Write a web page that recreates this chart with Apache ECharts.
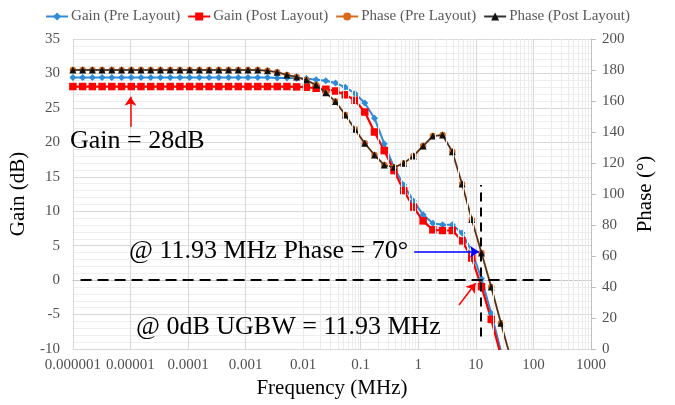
<!DOCTYPE html>
<html><head><meta charset="utf-8">
<script src="https://cdn.jsdelivr.net/npm/echarts@6/dist/echarts.min.js"></script>
<style>html,body{margin:0;padding:0;background:#fff}#c{width:675px;height:405px}</style>
</head><body><div id="c"></div>
<script>
// Frequency sweep (MHz)
const freqMHz = [
  1.000e-6, 1.476e-6, 2.178e-6, 3.214e-6, 4.742e-6, 6.998e-6,
  1.033e-5, 1.524e-5, 2.249e-5, 3.319e-5, 4.898e-5, 7.228e-5,
  1.067e-4, 1.574e-4, 2.323e-4, 3.428e-4, 5.058e-4, 7.464e-4,
  1.102e-3, 1.626e-3, 2.399e-3, 3.540e-3, 5.224e-3, 7.709e-3,
  1.138e-2, 1.679e-2, 2.477e-2, 3.656e-2, 5.395e-2, 7.962e-2,
  0.1175, 0.1734, 0.2559, 0.3776, 0.5572, 0.8222,
  1.213, 1.791, 2.642, 3.899, 5.754, 8.492,
  12.53, 18.49, 27.29, 40.27, 59.43
];
const gainPre = [
  29.4, 29.4, 29.4, 29.4, 29.4, 29.4,
  29.4, 29.4, 29.4, 29.4, 29.4, 29.4,
  29.4, 29.4, 29.4, 29.4, 29.4, 29.4,
  29.4, 29.4, 29.4, 29.35, 29.35, 29.3,
  29.25, 29.1, 28.95, 28.6, 28.0, 27.1,
  25.7, 23.5, 19.8, 16.4, 13.8, 11.5,
  9.5, 8.25, 8.05, 8.05, 6.85, 4.2,
  0.2, -4.8, -10.3, -15.5, -20.5
];
const gainPost = [
  28.1, 28.1, 28.1, 28.1, 28.1, 28.1,
  28.1, 28.1, 28.1, 28.1, 28.1, 28.1,
  28.1, 28.1, 28.1, 28.1, 28.1, 28.1,
  28.1, 28.1, 28.1, 28.1, 28.1, 28.05,
  28.0, 27.85, 27.7, 27.45, 26.9, 26.1,
  24.4, 21.5, 18.8, 15.9, 13.0, 10.6,
  8.6, 7.3, 7.2, 7.2, 5.7, 3.2,
  -0.95, -5.7, -11.0, -16.5, -22.0
];
const phasePre = [
  180, 180, 180, 180, 180, 180,
  180, 180, 180, 180, 180, 180,
  180, 180, 180, 180, 180, 180,
  180, 180, 179.5, 178.6, 176.8, 175.5,
  173.5, 170.3, 165.4, 159.6, 151, 141.7,
  132.7, 125.2, 118.7, 117.2, 119.8, 124.5,
  131, 137.4, 138, 127.3, 106.5, 83.5,
  62, 40, 16.6, -6, -28
];
const phasePost = [
  180, 180, 180, 180, 180, 180,
  180, 180, 180, 180, 180, 180,
  180, 180, 180, 180, 180, 180,
  180, 180, 179.5, 178.6, 176.8, 175.5,
  173.5, 170.3, 165.4, 159.6, 151, 141.7,
  132.7, 125.2, 118.7, 117.2, 119.8, 124.5,
  131, 137.4, 138, 127.3, 106.5, 83.5,
  62, 40, 16.6, -6, -28
];
const xTickLabels = ['0.000001','0.00001','0.0001','0.001','0.01','0.1','1','10','100','1000'];
const seriesNames = ['Gain (Pre Layout)','Gain (Post Layout)','Phase (Pre Layout)','Phase (Post Layout)'];
const ugbwMHz = 11.93;

const FONT = '"Liberation Serif", "Times New Roman", serif';
const pair = arr => freqMHz.map((f, i) => [f, arr[i]]);

// minor log gridlines (2..9 in each decade)
const minorX = [];
for (let e = -6; e < 3; e++) for (let m = 2; m <= 9; m++) minorX.push({ xAxis: m * Math.pow(10, e) });

const chart = echarts.init(document.getElementById('c'), null, { renderer: 'canvas' });
chart.setOption({
  animation: false,
  backgroundColor: '#fff',
  textStyle: { fontFamily: FONT },
  legend: {
    data: seriesNames,
    top: 4, left: 'center',
    itemWidth: 22, itemHeight: 10, itemGap: 7,
    textStyle: { fontFamily: FONT, fontSize: 15, color: '#595959', padding: [0, 0, 0, -2] }
  },
  grid: { left: 69, right: 84, top: 39, bottom: 56 },
  xAxis: {
    type: 'log', logBase: 10, min: 0.000001, max: 1000,
    name: 'Frequency (MHz)', nameLocation: 'middle', nameGap: 27,
    nameTextStyle: { fontFamily: FONT, fontSize: 21, color: '#000' },
    axisLine: { show: true, lineStyle: { color: '#C8C8C8', width: 1 } },
    axisTick: { show: false },
    axisLabel: {
      fontFamily: FONT, fontSize: 15, color: '#505050', margin: 9,
      formatter: v => xTickLabels[Math.round(Math.log10(v)) + 6]
    },
    splitLine: { show: true, lineStyle: { color: '#D9D9D9', width: 1 } }
  },
  yAxis: [
    {
      type: 'value', min: -10, max: 35, interval: 5,
      name: 'Gain (dB)', nameLocation: 'middle', nameGap: 42, nameRotate: 90,
      nameTextStyle: { fontFamily: FONT, fontSize: 21, color: '#000' },
      axisLine: { show: true, lineStyle: { color: '#D9D9D9' } },
      axisTick: { show: false },
      axisLabel: { fontFamily: FONT, fontSize: 15, color: '#505050', margin: 13 },
      splitLine: { show: true, lineStyle: { color: '#D9D9D9', width: 1 } },
      minorTick: { show: false, splitNumber: 5 },
      minorSplitLine: { show: true, lineStyle: { color: '#EEEEEE', width: 1 } }
    },
    {
      type: 'value', min: 0, max: 200, interval: 20, position: 'right',
      name: 'Phase (°)', nameLocation: 'middle', nameGap: 38, nameRotate: 90,
      nameTextStyle: { fontFamily: FONT, fontSize: 21, color: '#000' },
      axisLine: { show: true, lineStyle: { color: '#BFBFBF' } },
      axisTick: { show: true, length: 5, lineStyle: { color: '#BFBFBF' } },
      axisLabel: { fontFamily: FONT, fontSize: 15, color: '#505050', margin: 11 },
      splitLine: { show: false }
    }
  ],
  graphic: [
    { type: 'text', x: 70, y: 141, z: 100,
      style: { text: 'Gain = 28dB', font: '26px ' + FONT, fill: '#000', verticalAlign: 'middle' } },
    { type: 'text', x: 129, y: 251, z: 100,
      style: { text: '@ 11.93 MHz Phase = 70°', font: '26px ' + FONT, fill: '#000', verticalAlign: 'middle' } },
    { type: 'text', x: 136, y: 327, z: 100,
      style: { text: '@ 0dB UGBW = 11.93 MHz', font: '26px ' + FONT, fill: '#000', verticalAlign: 'middle' } }
  ],
  series: [
    {
      name: 'minorGrid', type: 'line', data: [], z: 1, silent: true,
      markLine: { silent: true, symbol: ['none', 'none'], label: { show: false },
        lineStyle: { color: '#EBEBEB', width: 1, type: 'solid' }, emphasis: { disabled: true },
        data: minorX }
    },
    {
      name: seriesNames[0], type: 'line', yAxisIndex: 0, data: pair(gainPre), z: 3,
      symbol: 'diamond', symbolSize: 7, showAllSymbol: true,
      itemStyle: { color: '#2E8BD8' }, lineStyle: { color: '#2E8BD8', width: 2 }
    },
    {
      name: seriesNames[1], type: 'line', yAxisIndex: 0, data: pair(gainPost), z: 3,
      symbol: 'rect', symbolSize: 7.5, showAllSymbol: true,
      itemStyle: { color: '#FF0000' }, lineStyle: { color: '#FF0000', width: 2.2 }
    },
    {
      name: seriesNames[2], type: 'line', yAxisIndex: 1, data: pair(phasePre), z: 3,
      symbol: 'circle', symbolSize: 6.5, showAllSymbol: true,
      itemStyle: { color: '#D9691E' }, lineStyle: { color: '#D9691E', width: 2 }
    },
    {
      name: seriesNames[3], type: 'line', yAxisIndex: 1, data: pair(phasePost), z: 4,
      symbol: 'triangle', symbolSize: 7, showAllSymbol: true,
      itemStyle: { color: '#111111' }, lineStyle: { color: '#333333', width: 1.3 }
    },
    {
      name: 'annot', type: 'line', yAxisIndex: 0, data: [], z: 6, silent: true,
      markLine: {
        silent: true, symbol: ['none', 'none'], label: { show: false }, emphasis: { disabled: true },
        data: [
          [{ coord: [1.36e-6, 0], lineStyle: { color: '#000', width: 2, type: [11, 6] } }, { coord: [209, 0] }],
          [{ coord: [ugbwMHz, -8.2], lineStyle: { color: '#000', width: 2, type: [9, 6] } }, { coord: [ugbwMHz, 13.8] }],
          [{ coord: [0.849, 4.12], lineStyle: { color: '#0000FF', width: 1.5, type: 'solid' }, symbol: 'none' },
           { coord: [11.33, 4.12], symbol: 'arrow', symbolSize: 9 }],
          [{ coord: [1e-5, 22.27], lineStyle: { color: '#FF0000', width: 1.5, type: 'solid' }, symbol: 'none' },
           { coord: [1e-5, 26.6], symbol: 'arrow', symbolSize: 9 }],
          [{ coord: [5.1, -3.61], lineStyle: { color: '#FF0000', width: 1.5, type: 'solid' }, symbol: 'none' },
           { coord: [9.88, -0.46], symbol: 'arrow', symbolSize: 9 }]
        ]
      }
    }
  ]
});
</script>
</body></html>
